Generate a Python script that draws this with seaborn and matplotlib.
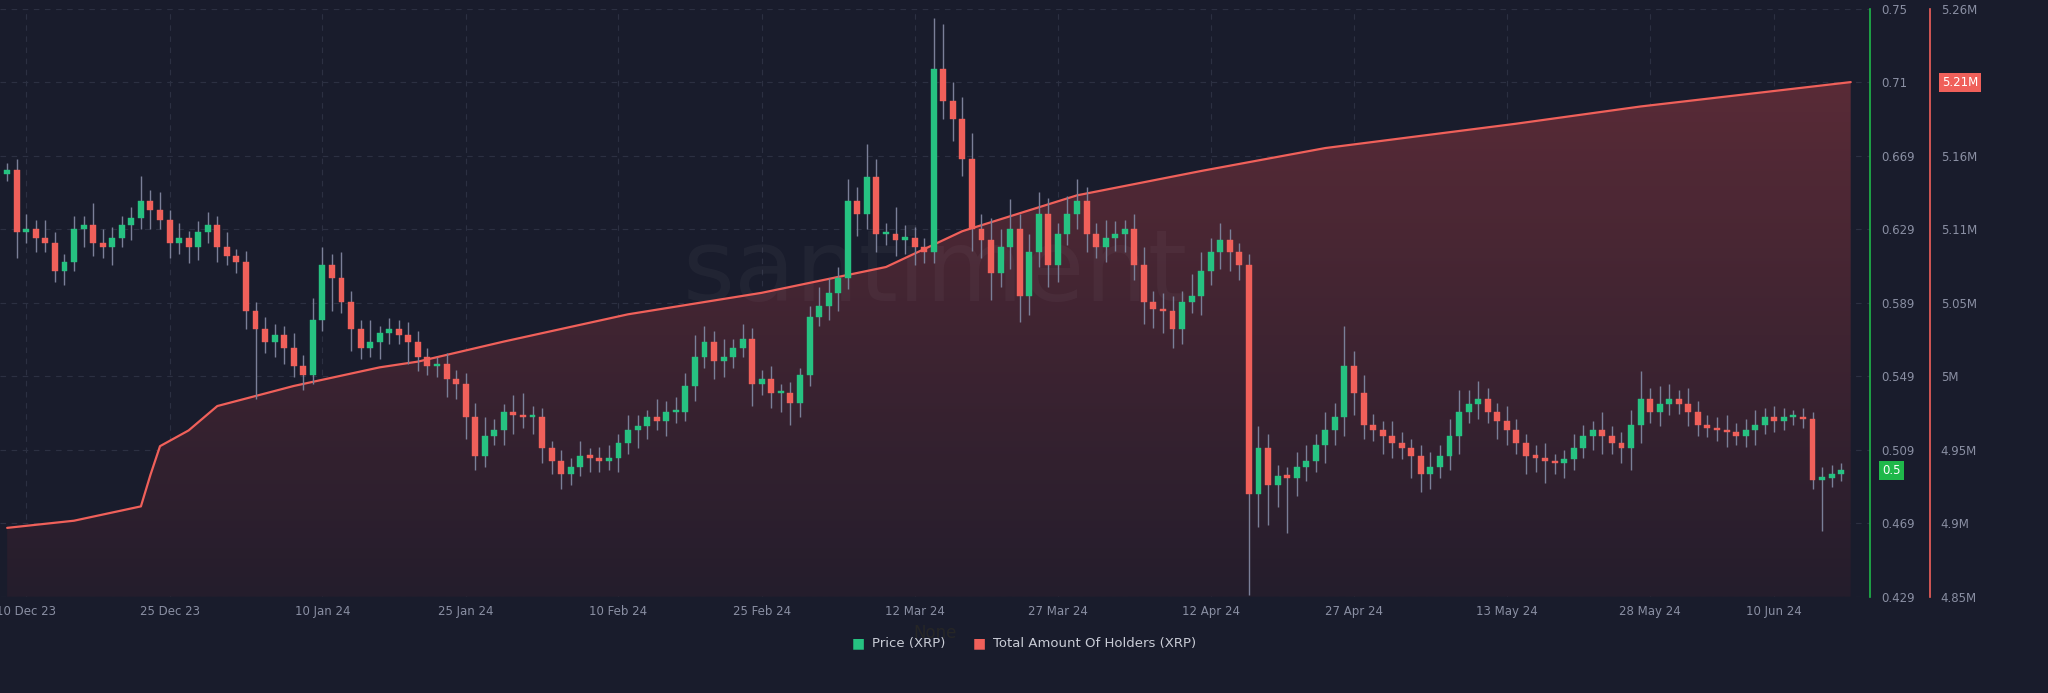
import numpy as np
import pandas as pd
import matplotlib
matplotlib.use("Agg")
import matplotlib.pyplot as plt
import matplotlib.dates as mdates
from matplotlib.patches import Polygon
from matplotlib.colors import LinearSegmentedColormap
import seaborn as sns

# ---------------- data ----------------
start_date = "2023-12-08"
close = [
    # Dec
    0.662, 0.628, 0.630, 0.625, 0.622, 0.607, 0.612, 0.630, 0.632, 0.622, 0.620, 0.625,
    0.632, 0.636, 0.645, 0.640, 0.635, 0.622, 0.625, 0.620, 0.628, 0.632, 0.620, 0.615,
    # Jan
    0.612, 0.585, 0.575, 0.568, 0.572, 0.565, 0.555, 0.550, 0.580, 0.610, 0.603, 0.590,
    0.575, 0.565, 0.568, 0.573, 0.575, 0.572, 0.568, 0.560, 0.555, 0.556, 0.548, 0.545,
    0.527, 0.506, 0.517, 0.520, 0.530, 0.528, 0.527, 0.527, 0.510, 0.503,
    # Feb - early Mar
    0.496, 0.500, 0.506, 0.505, 0.503, 0.505, 0.513, 0.520, 0.522, 0.527, 0.525, 0.530,
    0.530, 0.544, 0.560, 0.568, 0.558, 0.560, 0.565, 0.570, 0.545, 0.548, 0.540, 0.540,
    0.535, 0.550, 0.582, 0.588, 0.595, 0.603, 0.645, 0.638, 0.658, 0.627, 0.627, 0.624,
    0.625, 0.620, 0.617,
    # Mar spike - Apr
    0.717, 0.700, 0.690, 0.668, 0.630, 0.624, 0.606, 0.620, 0.630, 0.593, 0.617, 0.638,
    0.610, 0.627, 0.638, 0.645, 0.627, 0.620, 0.625, 0.627, 0.630, 0.610, 0.590, 0.586,
    0.585, 0.575, 0.590, 0.593, 0.607, 0.617, 0.624, 0.617, 0.610,
    # crash and after
    0.485, 0.510, 0.490, 0.495, 0.494, 0.500, 0.503, 0.512, 0.520, 0.527, 0.555, 0.540,
    0.523, 0.520, 0.517, 0.513, 0.510, 0.506, 0.496, 0.500, 0.506, 0.517, 0.530, 0.534,
    0.537, 0.530, 0.525, 0.520, 0.513, 0.506, 0.505, 0.503, 0.502, 0.504, 0.510, 0.517,
    0.520, 0.517, 0.513, 0.510, 0.523, 0.537, 0.530, 0.534, 0.537, 0.534, 0.530, 0.523,
    0.521, 0.520, 0.519, 0.517, 0.520, 0.523, 0.527, 0.525, 0.527, 0.527, 0.526,
    0.493, 0.494, 0.496, 0.498,
]
first_open = 0.660
# wick extents in thousandths (upper, lower)
wick_up = [
    4, 6, 8, 5, 10, 6, 4, 7, 5, 12, 8, 6, 5, 6, 14, 6, 10, 5, 8, 4, 6, 7, 5, 8,
    4, 6, 5, 7, 6, 5, 8, 6, 12, 10, 6, 14, 6, 5, 12, 4, 6, 5, 7, 6, 5, 4, 6, 5,
    6, 8, 10, 6, 4, 9, 12, 6, 5, 4,
    6, 5, 8, 4, 6, 7, 5, 8, 6, 4, 10, 6, 8, 7, 12, 9, 6, 10, 5, 8, 6, 5, 7, 5,
    6, 4, 6, 10, 8, 6, 12, 8, 18, 10, 6, 15, 7, 6, 5,
    28, 25, 10, 12, 14, 8, 12, 10, 16, 8, 10, 12, 9, 6, 10, 12, 8, 6, 10, 7, 5, 8, 10, 6,
    9, 8, 6, 12, 10, 8, 9, 6, 5,
    6, 12, 8, 6, 5, 8, 9, 6, 10, 8, 22, 8, 10, 6, 5, 8, 6, 5, 6, 8, 6, 9, 12, 8,
    10, 6, 5, 8, 6, 5, 6, 8, 4, 5, 8, 6, 5, 10, 5, 6, 8, 15, 6, 10, 8, 5, 9, 6,
    5, 6, 8, 5, 6, 8, 5, 6, 5, 4, 5, 4, 6, 5, 4, 6,
]
wick_dn = [
    4, 14, 6, 8, 5, 6, 8, 5, 10, 7, 6, 10, 5, 8, 6, 10, 5, 8, 6, 9, 7, 6, 8, 5,
    6, 10, 38, 6, 8, 9, 6, 8, 5, 6, 18, 6, 12, 6, 5, 9, 6, 5, 12, 8, 5, 6, 10, 8,
    12, 8, 6, 5, 8, 10, 6, 9, 8, 7,
    8, 6, 5, 8, 6, 5, 8, 6, 10, 7, 5, 8, 6, 5, 8, 6, 10, 9, 6, 5, 12, 6, 8, 10,
    12, 8, 6, 5, 8, 10, 6, 12, 8, 10, 6, 9, 8, 10, 6,
    6, 10, 12, 9, 12, 10, 15, 8, 12, 14, 10, 8, 12, 9, 6, 8, 10, 6, 8, 7, 10, 8, 12, 10,
    12, 10, 8, 6, 10, 8, 9, 10, 8,
    55, 18, 22, 12, 30, 10, 8, 6, 10, 8, 10, 12, 8, 6, 10, 8, 6, 12, 10, 8, 6, 8, 10, 6,
    8, 6, 10, 8, 6, 10, 8, 12, 6, 8, 6, 5, 8, 10, 6, 8, 12, 10, 6, 8, 6, 5, 8, 6,
    5, 6, 8, 5, 6, 8, 5, 6, 5, 4, 5, 5, 28, 5, 4, 5,
]

holder_dates = ["2023-12-08", "2023-12-15", "2023-12-22", "2023-12-23", "2023-12-24",
                "2023-12-27", "2023-12-30", "2024-01-07", "2024-01-16", "2024-01-20",
                "2024-01-29", "2024-02-11", "2024-02-25", "2024-03-09", "2024-03-17",
                "2024-03-29", "2024-04-11", "2024-04-24", "2024-05-14", "2024-05-27",
                "2024-06-18"]
holders = [4.898, 4.903, 4.913, 4.935, 4.955, 4.966, 4.983, 4.997, 5.010, 5.014,
           5.028, 5.047, 5.062, 5.080, 5.105, 5.130, 5.147, 5.163, 5.180, 5.192, 5.209]

xtick_dates = ["2023-12-10", "2023-12-25", "2024-01-10", "2024-01-25", "2024-02-10",
               "2024-02-25", "2024-03-12", "2024-03-27", "2024-04-12", "2024-04-27",
               "2024-05-13", "2024-05-28", "2024-06-10"]
xtick_labels = ["10 Dec 23", "25 Dec 23", "10 Jan 24", "25 Jan 24", "10 Feb 24",
                "25 Feb 24", "12 Mar 24", "27 Mar 24", "12 Apr 24", "27 Apr 24",
                "13 May 24", "28 May 24", "10 Jun 24"]
price_tick_labels = ["0.429", "0.469", "0.509", "0.549", "0.589", "0.629", "0.669", "0.71", "0.75"]
holder_tick_labels = ["4.85M", "4.9M", "4.95M", "5M", "5.05M", "5.11M", "5.16M", "5.21M", "5.26M"]

# ---------------- style ----------------
BG = "#191c2c"
GREEN = "#26c281"
RED = "#f0605a"
TXT = "#8a8fa3"
sns.set_theme(style="dark")
plt.rcParams['font.family'] = ['DejaVu Sans']

n = len(close)
dates = pd.date_range(start_date, periods=n, freq="D")
wu = np.array(wick_up[:n] + [5] * max(0, n - len(wick_up))) / 1000
wd = np.array(wick_dn[:n] + [5] * max(0, n - len(wick_dn))) / 1000
c = np.array(close)
o = np.concatenate([[first_open], c[:-1]])
hi = np.maximum(o, c) + wu
lo = np.minimum(o, c) - wd

fig = plt.figure(figsize=(20.48, 6.93), dpi=100, facecolor=BG)
ax2 = fig.add_axes([0.0, 0.139, 0.913, 0.848])   # holders (behind)
ax = ax2.twinx()                                   # price
ax.set_facecolor("none")
ax2.set_facecolor(BG)

xmin = mdates.date2num(pd.Timestamp("2023-12-07 06:00"))
xmax = mdates.date2num(pd.Timestamp("2024-06-20"))

# holders area with gradient
hd = mdates.date2num(pd.to_datetime(holder_dates))
hv = np.array(holders)
ax2.set_ylim(4.85, 5.26)
ax2.set_xlim(xmin, xmax)
poly = Polygon(np.column_stack([np.r_[hd, hd[-1], hd[0]], np.r_[hv, 4.85, 4.85]]),
               closed=True, facecolor="none", edgecolor="none")
ax2.add_patch(poly)
grad = np.linspace(0, 1, 256).reshape(-1, 1)
cmap = LinearSegmentedColormap.from_list("g", ["#241d2c", "#5a2b37"])
im = ax2.imshow(grad, cmap=cmap, aspect="auto", origin="lower",
                extent=[hd[0], hd[-1], 4.85, 5.215], zorder=1)
im.set_clip_path(poly)
sns.lineplot(x=pd.to_datetime(holder_dates), y=holders, ax=ax2, color=RED, lw=1.6, zorder=2)
ax2.set_xlim(xmin, xmax)

# watermark
ax2.text(0.5, 0.55, "santiment", transform=ax2.transAxes, ha="center", va="center",
         fontsize=72, color="#ffffff", alpha=0.035, zorder=1.5)

# grid
ax2.grid(True, color="#2c3042", ls=(0, (5, 5)), lw=0.8)
pos_p = np.linspace(0.429, 0.75, 9)
pos_h = np.linspace(4.85, 5.26, 9)
ax2.set_yticks(pos_h)
ax2.set_yticklabels(holder_tick_labels)
ax2.set_xticks(mdates.date2num(pd.to_datetime(xtick_dates)))
ax2.set_xticklabels(xtick_labels)

# candles
ax.set_ylim(0.429, 0.75)
ax.set_xlim(xmin, xmax)
dn = mdates.date2num(dates)
up = c >= o
cols = np.where(up, GREEN, RED)
ax.vlines(dn, lo, hi, color="#7a7f98", lw=1.0, zorder=3)
ax.bar(dn, np.maximum(np.abs(c - o), 0.0012), bottom=np.minimum(o, c), width=0.62,
       color=cols, edgecolor=cols, lw=0.3, zorder=4)
ax.set_yticks(pos_p)
ax.set_yticklabels(price_tick_labels)

# axes styling
for a in (ax, ax2):
    for s in a.spines.values():
        s.set_visible(False)
ax.spines["right"].set_visible(True)
ax.spines["right"].set_color("#1fb84a")
ax.spines["right"].set_linewidth(1.2)
ax.tick_params(axis="y", colors=TXT, labelsize=8.5, length=0, pad=8, labelcolor=TXT)
ax2.yaxis.tick_right()
ax2.spines["right"].set_visible(True)
ax2.spines["right"].set_position(("axes", 1.032))
ax2.spines["right"].set_color(RED)
ax2.spines["right"].set_linewidth(1.2)
ax2.tick_params(axis="y", colors=TXT, labelsize=8.5, length=0, pad=8, labelcolor=TXT)
ax2.tick_params(axis="x", colors=TXT, labelsize=8.5, length=0, pad=6, labelcolor=TXT)

# value tags
ax.annotate(f"{close[-1]:.1f}", xy=(1.0, close[-1]), xycoords=("axes fraction", "data"),
            xytext=(9, 0), textcoords="offset points", ha="left", va="center",
            fontsize=8.5, color="white",
            bbox=dict(boxstyle="square,pad=0.25", fc="#1fb84a", ec="none"))
ax2.annotate("5.21M", xy=(1.032, holders[-1]), xycoords=("axes fraction", "data"),
             xytext=(9, 0), textcoords="offset points", ha="left", va="center",
             fontsize=8.5, color="white",
             bbox=dict(boxstyle="square,pad=0.25", fc=RED, ec="none"))

# legend
fig.text(0.419, 0.072, "■", color=GREEN, fontsize=10, ha="center", va="center")
fig.text(0.426, 0.072, "Price (XRP)", color="#c9ccd6", fontsize=9.5, ha="left", va="center")
fig.text(0.478, 0.072, "■", color=RED, fontsize=10, ha="center", va="center")
fig.text(0.485, 0.072, "Total Amount Of Holders (XRP)", color="#c9ccd6", fontsize=9.5,
         ha="left", va="center")

fig.savefig("out.png", dpi=100, facecolor=BG)
